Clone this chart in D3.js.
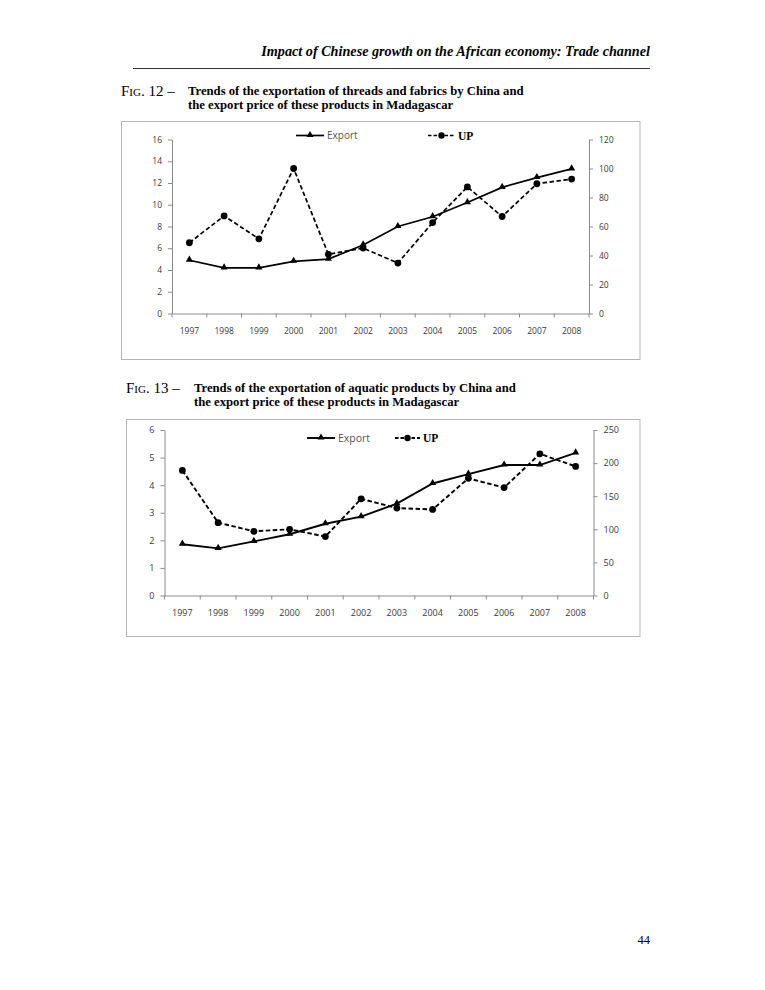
<!DOCTYPE html>
<html lang="en">
<head>
  <meta charset="UTF-8">
  <title>Fig. 12 and Fig. 13</title>
  <style>
    html, body { margin: 0; background: #fff; overflow: hidden; }
    svg { display: block; }
  </style>
</head>
<body>
  <div id="page"></div>
  <script src="https://cdn.jsdelivr.net/npm/d3@7"></script>
  <script>
    // values
    const years = ['1997', '1998', '1999', '2000', '2001', '2002', '2003', '2004', '2005', '2006', '2007', '2008']
    const threadsExport = [4.9, 4.2, 4.2, 4.8, 5.0, 6.3, 8.0, 8.9, 10.2, 11.6, 12.5, 13.3]
    const threadsUP = [48.8, 67.3, 51.5, 100, 40.8, 45.1, 34.8, 62.7, 87.3, 66.9, 89.5, 92.7]
    const aquaticExport = [1.86, 1.71, 1.96, 2.22, 2.6, 2.86, 3.33, 4.06, 4.4, 4.73, 4.73, 5.17]
    const aquaticUP = [189, 110, 97, 100, 89, 146, 132, 130, 177, 163, 214, 195]
    const threadsLeftTicks = [0, 2, 4, 6, 8, 10, 12, 14, 16]
    const threadsRightTicks = [0, 20, 40, 60, 80, 100, 120]
    const aquaticLeftTicks = [0, 1, 2, 3, 4, 5, 6]
    const aquaticRightTicks = [0, 50, 100, 150, 200, 250]

    const W = 765, H = 990
    const serif = '"Liberation Serif", "DejaVu Serif", serif'
    const sans = '"Open Sans", "Noto Sans", sans-serif'

    const svg = d3.select('#page').append('svg')
      .attr('width', W)
      .attr('height', H)
      .attr('viewBox', `0 0 ${W} ${H}`)
      .style('background', '#fff')

    // running header
    svg.append('text')
      .attr('x', 650).attr('y', 56)
      .attr('text-anchor', 'end')
      .attr('font-family', serif)
      .attr('font-size', 14.2)
      .attr('font-weight', 'bold')
      .attr('font-style', 'italic')
      .text('Impact of Chinese growth on the African economy: Trade channel')

    svg.append('line')
      .attr('x1', 133).attr('x2', 650)
      .attr('y1', 68.5).attr('y2', 68.5)
      .attr('stroke', '#000')
      .attr('stroke-width', 0.8)

    svg.append('text')
      .attr('x', 650).attr('y', 944)
      .attr('text-anchor', 'end')
      .attr('font-family', serif)
      .attr('font-size', 12.5)
      .attr('fill', '#000')
      .text('44')

    function drawFigure(opt) {
      const { num, titleX, titleY, textX, lines, box, plot, left, right, leftTicks, rightTicks,
        exportVals, upVals, legend, labelSize, lineWidth } = opt

      // caption
      svg.append('text')
        .attr('x', titleX).attr('y', titleY)
        .attr('font-family', serif)
        .attr('font-size', 15)
        .style('font-variant', 'small-caps')
        .text(`Fig. ${num} –`)

      lines.forEach((t, i) => {
        svg.append('text')
          .attr('x', textX).attr('y', titleY - 1 + i * 14)
          .attr('font-family', serif)
          .attr('font-size', 12.7)
          .attr('font-weight', 'bold')
          .text(t)
      })

      // frame
      svg.append('rect')
        .attr('x', box.x).attr('y', box.y)
        .attr('width', box.w).attr('height', box.h)
        .attr('fill', '#fff')
        .attr('stroke', '#b5b5b5')
        .attr('stroke-width', 1)

      const x = d3.scaleBand().domain(years).range([plot.x0, plot.x1])
      const yL = d3.scaleLinear().domain(left).range([plot.y1, plot.y0])
      const yR = d3.scaleLinear().domain(right).range([plot.y1, plot.y0])
      const g = svg.append('g')
      const fmt = d3.format('d')

      const styleAxis = sel => {
        sel.select('.domain').attr('stroke', '#8c8c8c')
        sel.selectAll('.tick line').attr('stroke', '#8c8c8c')
        sel.selectAll('.tick text')
          .attr('fill', '#3a3a3a')
          .attr('font-family', sans)
          .attr('font-size', labelSize)
      }

      g.append('g')
        .attr('transform', `translate(${plot.x0},0)`)
        .call(d3.axisLeft(yL).tickValues(leftTicks).tickFormat(fmt).tickSize(4).tickSizeOuter(0).tickPadding(6))
        .call(styleAxis)

      g.append('g')
        .attr('transform', `translate(${plot.x1},0)`)
        .call(d3.axisRight(yR).tickValues(rightTicks).tickFormat(fmt).tickSize(4).tickSizeOuter(0).tickPadding(6))
        .call(styleAxis)

      const xAxis = g.append('g')
        .attr('transform', `translate(0,${plot.y1})`)
        .call(d3.axisBottom(x).tickSize(0).tickPadding(14))
        .call(styleAxis)

      // ticks between categories
      xAxis.selectAll('.bound')
        .data(d3.range(years.length + 1))
        .join('line')
        .attr('class', 'bound')
        .attr('x1', i => plot.x0 + i * x.step())
        .attr('x2', i => plot.x0 + i * x.step())
        .attr('y1', 0).attr('y2', 4)
        .attr('stroke', '#8c8c8c')

      const cx = d => x(d) + x.bandwidth() / 2

      const exportLine = d3.line()
        .x((d, i) => cx(years[i]))
        .y(d => yL(d))
      const upLine = d3.line()
        .x((d, i) => cx(years[i]))
        .y(d => yR(d))

      const tri = d3.symbol().type(d3.symbolTriangle).size(22)

      g.append('path')
        .datum(upVals)
        .attr('d', upLine)
        .attr('fill', 'none')
        .attr('stroke', '#000')
        .attr('stroke-width', lineWidth)
        .attr('stroke-dasharray', '4.5,2.5')

      g.selectAll('.up-dot')
        .data(upVals)
        .join('circle')
        .attr('class', 'up-dot')
        .attr('cx', (d, i) => cx(years[i]))
        .attr('cy', d => yR(d))
        .attr('r', 3.4)
        .attr('fill', '#000')

      g.append('path')
        .datum(exportVals)
        .attr('d', exportLine)
        .attr('fill', 'none')
        .attr('stroke', '#000')
        .attr('stroke-width', lineWidth)

      g.selectAll('.ex-tri')
        .data(exportVals)
        .join('path')
        .attr('class', 'ex-tri')
        .attr('transform', (d, i) => `translate(${cx(years[i])},${yL(d) - 0.5})`)
        .attr('d', tri)
        .attr('fill', '#000')

      // legend
      const lg = svg.append('g')
      lg.append('line')
        .attr('x1', legend.ex0).attr('x2', legend.ex1)
        .attr('y1', legend.y).attr('y2', legend.y)
        .attr('stroke', '#000').attr('stroke-width', lineWidth)
      lg.append('path')
        .attr('transform', `translate(${(legend.ex0 + legend.ex1) / 2},${legend.y - 0.5})`)
        .attr('d', tri).attr('fill', '#000')
      lg.append('text')
        .attr('x', legend.ex1 + 3).attr('y', legend.y + 3.5)
        .attr('font-family', sans)
        .attr('font-size', labelSize + 1.5)
        .attr('fill', '#555')
        .text('Export')

      lg.append('line')
        .attr('x1', legend.up0).attr('x2', legend.up1)
        .attr('y1', legend.y).attr('y2', legend.y)
        .attr('stroke', '#000').attr('stroke-width', lineWidth)
        .attr('stroke-dasharray', '3.5,2')
      lg.append('circle')
        .attr('cx', (legend.up0 + legend.up1) / 2).attr('cy', legend.y)
        .attr('r', 3.2).attr('fill', '#000')
      lg.append('text')
        .attr('x', legend.up1 + 3).attr('y', legend.y + 4)
        .attr('font-family', serif)
        .attr('font-weight', 'bold')
        .attr('font-size', 11.5)
        .text('UP')
    }

    drawFigure({
      num: 12,
      titleX: 121, titleY: 96, textX: 188,
      lines: ['Trends of the exportation of threads and fabrics by China and',
        'the export price of these products in Madagascar'],
      box: { x: 121.5, y: 121.5, w: 518.5, h: 238 },
      plot: { x0: 172, x1: 589, y0: 139.5, y1: 313.5 },
      left: [0, 16], right: [0, 120],
      leftTicks: threadsLeftTicks, rightTicks: threadsRightTicks,
      exportVals: threadsExport, upVals: threadsUP,
      legend: { y: 135.5, ex0: 296, ex1: 324, up0: 428, up1: 455 },
      labelSize: 8.5, lineWidth: 1.7
    })

    drawFigure({
      num: 13,
      titleX: 126, titleY: 393, textX: 194,
      lines: ['Trends of the exportation of aquatic products by China and',
        'the export price of these products in Madagascar'],
      box: { x: 126.5, y: 419.5, w: 513.5, h: 217 },
      plot: { x0: 164.5, x1: 593.5, y0: 430, y1: 595.5 },
      left: [0, 6], right: [0, 250],
      leftTicks: aquaticLeftTicks, rightTicks: aquaticRightTicks,
      exportVals: aquaticExport, upVals: aquaticUP,
      legend: { y: 438, ex0: 307, ex1: 335, up0: 395, up1: 420 },
      labelSize: 9, lineWidth: 1.9
    })
  </script>
</body>
</html>
